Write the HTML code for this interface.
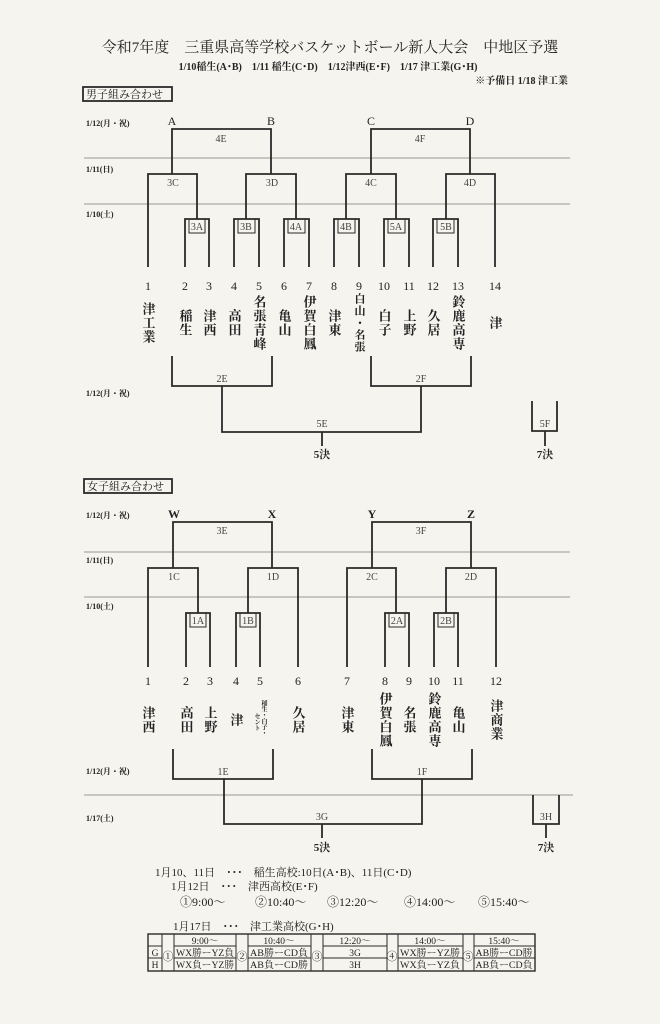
<!DOCTYPE html>
<html><head><meta charset="utf-8"><style>
html,body{margin:0;padding:0;background:#f6f4ef;}
svg{display:block}
text{font-family:"Liberation Serif","Noto Serif CJK SC","Noto Sans CJK JP",serif;fill:#222}
.b{stroke:#2a2a2a;stroke-width:1.8;fill:none}
.g{stroke:#999;stroke-width:1;fill:none}
.v{writing-mode:vertical-rl;font-size:13px;font-weight:bold;letter-spacing:1px}
.n{font-size:12px;text-anchor:middle}
.l{font-size:10px;text-anchor:middle;fill:#444}
.d{font-size:8px;font-weight:bold}
</style></head><body>
<svg width="660" height="1024" viewBox="0 0 660 1024" xmlns="http://www.w3.org/2000/svg">
<text x="330" y="52" font-size="15" text-anchor="middle">令和7年度　三重県高等学校バスケットボール新人大会　中地区予選</text>
<text x="328" y="70" font-size="10" text-anchor="middle" font-weight="bold">1/10稲生(A･B)　1/11 稲生(C･D)　1/12津西(E･F)　1/17 津工業(G･H)</text>
<text x="568" y="84" font-size="10" text-anchor="end" font-weight="bold">※予備日 1/18 津工業</text>
<rect x="83" y="87" width="89" height="14" class="b" stroke-width="1.3"/>
<text x="86" y="98" font-size="11">男子組み合わせ</text>

<line x1="84" y1="158" x2="570" y2="158" class="g"/>
<line x1="84" y1="204" x2="570" y2="204" class="g"/>
<text x="86" y="126" class="d">1/12(月・祝)</text>
<text x="86" y="172" class="d">1/11(日)</text>
<text x="86" y="217" class="d">1/10(土)</text>
<text x="86" y="396" class="d">1/12(月・祝)</text>

<g font-size="12" text-anchor="middle">
<text x="172" y="125">A</text><text x="271" y="125">B</text><text x="371" y="125">C</text><text x="470" y="125">D</text>
</g>
<path class="b" d="M172,174V129H271V174 M371,174V129H470V174
M148,267V174H197V219 M185,267V219H209V267
M246,219V174H296V219 M234,267V219H259V267 M284,267V219H309V267
M346,219V174H396V219 M334,267V219H359V267 M384,267V219H409V267
M446,219V174H495V267 M433,267V219H458V267"/>
<g fill="none" stroke="#2a2a2a" stroke-width="1">
<rect x="189" y="219" width="16" height="14"/><rect x="238" y="219" width="17" height="14"/><rect x="288" y="219" width="17" height="14"/>
<rect x="338" y="219" width="17" height="14"/><rect x="388" y="219" width="17" height="14"/><rect x="437" y="219" width="17" height="14"/>
</g>
<text x="221" y="142" class="l">4E</text><text x="420" y="142" class="l">4F</text>
<text x="173" y="186" class="l">3C</text><text x="272" y="186" class="l">3D</text><text x="371" y="186" class="l">4C</text><text x="470" y="186" class="l">4D</text>
<text x="197" y="230" class="l">3A</text><text x="246" y="230" class="l">3B</text><text x="296" y="230" class="l">4A</text><text x="346" y="230" class="l">4B</text><text x="396" y="230" class="l">5A</text><text x="446" y="230" class="l">5B</text>
<text x="148" y="290" class="n">1</text><text x="185" y="290" class="n">2</text><text x="209" y="290" class="n">3</text><text x="234" y="290" class="n">4</text><text x="259" y="290" class="n">5</text><text x="284" y="290" class="n">6</text><text x="309" y="290" class="n">7</text><text x="334" y="290" class="n">8</text><text x="359" y="290" class="n">9</text><text x="384" y="290" class="n">10</text><text x="409" y="290" class="n">11</text><text x="433" y="290" class="n">12</text><text x="458" y="290" class="n">13</text><text x="495" y="290" class="n">14</text>
<g text-anchor="middle">
<text x="148" y="323" class="v">津工業</text>
<text x="185" y="323" class="v">稲生</text>
<text x="209" y="323" class="v">津西</text>
<text x="234" y="323" class="v">高田</text>
<text x="259" y="323" class="v">名張青峰</text>
<text x="284" y="323" class="v">亀山</text>
<text x="309" y="323" class="v">伊賀白鳳</text>
<text x="334" y="323" class="v">津東</text>
<text x="359" y="323" class="v" style="font-size:11px">白山・名張</text>
<text x="384" y="323" class="v">白子</text>
<text x="409" y="323" class="v">上野</text>
<text x="433" y="323" class="v">久居</text>
<text x="458" y="323" class="v">鈴鹿高専</text>
<text x="495" y="323" class="v">津</text>
</g>
<path class="b" d="M172,356V386H272V356 M222,386V432H421V386 M371,356V386H471V356 M322,432V446
M532,401V431H557V401 M545,431V446"/>
<text x="222" y="382" class="l">2E</text><text x="421" y="382" class="l">2F</text>
<text x="322" y="427" class="l">5E</text><text x="545" y="427" class="l">5F</text>
<text x="322" y="458" font-size="11" text-anchor="middle" font-weight="bold">5決</text>
<text x="545" y="458" font-size="11" text-anchor="middle" font-weight="bold">7決</text>

<rect x="84" y="479" width="88" height="14" class="b" stroke-width="1.3"/>
<text x="87" y="490" font-size="11">女子組み合わせ</text>
<line x1="84" y1="552" x2="570" y2="552" class="g"/>
<line x1="84" y1="597" x2="570" y2="597" class="g"/>
<line x1="84" y1="795" x2="573" y2="795" class="g"/>
<text x="86" y="518" class="d">1/12(月・祝)</text>
<text x="86" y="563" class="d">1/11(日)</text>
<text x="86" y="609" class="d">1/10(土)</text>
<text x="86" y="774" class="d">1/12(月・祝)</text>
<text x="86" y="821" class="d">1/17(土)</text>
<g font-size="12" text-anchor="middle" font-weight="bold">
<text x="174" y="518">W</text><text x="272" y="518">X</text><text x="372" y="518">Y</text><text x="471" y="518">Z</text>
</g>
<path class="b" d="M173,568V522H272V568 M372,568V522H471V568
M148,667V568H198V613 M186,667V613H210V667
M248,613V568H298V667 M236,667V613H260V667
M347,667V568H396V613 M385,667V613H409V667
M446,613V568H496V667 M434,667V613H458V667"/>
<g fill="none" stroke="#2a2a2a" stroke-width="1">
<rect x="190" y="613" width="16" height="14"/><rect x="240" y="613" width="16" height="14"/><rect x="389" y="613" width="16" height="14"/><rect x="438" y="613" width="16" height="14"/>
</g>
<text x="222" y="534" class="l">3E</text><text x="421" y="534" class="l">3F</text>
<text x="174" y="580" class="l">1C</text><text x="273" y="580" class="l">1D</text><text x="372" y="580" class="l">2C</text><text x="471" y="580" class="l">2D</text>
<text x="198" y="624" class="l">1A</text><text x="248" y="624" class="l">1B</text><text x="397" y="624" class="l">2A</text><text x="446" y="624" class="l">2B</text>
<text x="148" y="685" class="n">1</text><text x="186" y="685" class="n">2</text><text x="210" y="685" class="n">3</text><text x="236" y="685" class="n">4</text><text x="260" y="685" class="n">5</text><text x="298" y="685" class="n">6</text><text x="347" y="685" class="n">7</text><text x="385" y="685" class="n">8</text><text x="409" y="685" class="n">9</text><text x="434" y="685" class="n">10</text><text x="458" y="685" class="n">11</text><text x="496" y="685" class="n">12</text>
<g text-anchor="middle">
<text x="148" y="720" class="v">津西</text>
<text x="186" y="720" class="v">高田</text>
<text x="210" y="720" class="v">上野</text>
<text x="236" y="720" class="v">津</text>
<text x="263" y="718" class="v" style="font-size:6px;letter-spacing:0">稲生・白子・</text>
<text x="256" y="722" class="v" style="font-size:6px;letter-spacing:0">セント</text>
<text x="298" y="720" class="v">久居</text>
<text x="347" y="720" class="v">津東</text>
<text x="385" y="720" class="v">伊賀白鳳</text>
<text x="409" y="720" class="v">名張</text>
<text x="434" y="720" class="v">鈴鹿高専</text>
<text x="458" y="720" class="v">亀山</text>
<text x="496" y="720" class="v">津商業</text>
</g>
<path class="b" d="M173,749V779H273V749 M224,779V824H422V779 M372,749V779H472V749 M322,824V838
M533,795V824H559V795 M546,824V838"/>
<text x="223" y="775" class="l">1E</text><text x="422" y="775" class="l">1F</text>
<text x="322" y="820" class="l">3G</text><text x="546" y="820" class="l">3H</text>
<text x="322" y="851" font-size="11" text-anchor="middle" font-weight="bold">5決</text>
<text x="546" y="851" font-size="11" text-anchor="middle" font-weight="bold">7決</text>

<g font-size="11">
<text x="155" y="876">1月10、11日　･･･　稲生高校:10日(A･B)、11日(C･D)</text>
<text x="171" y="890">1月12日　･･･　津西高校(E･F)</text>
<g font-size="12"><text x="180" y="906">①9:00～</text><text x="255" y="906">②10:40～</text><text x="327" y="906">③12:20～</text><text x="404" y="906">④14:00～</text><text x="478" y="906">⑤15:40～</text></g>
<text x="173" y="930">1月17日　･･･　津工業高校(G･H)</text>
</g>
<g stroke="#2a2a2a" fill="none">
<rect x="148" y="934" width="387" height="37" stroke-width="1.4"/>
<path stroke-width="1" d="M148,946H162M174,946H236M248,946H311M323,946H387M398,946H463M474,946H535
M148,958H162M174,958H236M248,958H311M323,958H387M398,958H463M474,958H535
M162,934V971M174,934V971M236,934V971M248,934V971M311,934V971M323,934V971M387,934V971M398,934V971M463,934V971M474,934V971"/>
</g>
<g font-size="9.5" text-anchor="middle">
<text x="205" y="944">9:00～</text><text x="279" y="944">10:40～</text><text x="355" y="944">12:20～</text><text x="430" y="944">14:00～</text><text x="504" y="944">15:40～</text>
<text x="155" y="956">G</text><text x="155" y="968">H</text>
<text x="168" y="960" font-size="11">①</text><text x="242" y="960" font-size="11">②</text><text x="317" y="960" font-size="11">③</text><text x="392" y="960" font-size="11">④</text><text x="468" y="960" font-size="11">⑤</text>
<text x="205" y="956" textLength="58" lengthAdjust="spacingAndGlyphs">WX勝ーYZ負</text><text x="205" y="968" textLength="58" lengthAdjust="spacingAndGlyphs">WX負ーYZ勝</text>
<text x="279" y="956" textLength="58" lengthAdjust="spacingAndGlyphs">AB勝ーCD負</text><text x="279" y="968" textLength="58" lengthAdjust="spacingAndGlyphs">AB負ーCD勝</text>
<text x="355" y="956">3G</text><text x="355" y="968">3H</text>
<text x="430" y="956" textLength="60" lengthAdjust="spacingAndGlyphs">WX勝ーYZ勝</text><text x="430" y="968" textLength="60" lengthAdjust="spacingAndGlyphs">WX負ーYZ負</text>
<text x="504" y="956" textLength="57" lengthAdjust="spacingAndGlyphs">AB勝ーCD勝</text><text x="504" y="968" textLength="57" lengthAdjust="spacingAndGlyphs">AB負ーCD負</text>
</g>
</svg>
</body></html>
